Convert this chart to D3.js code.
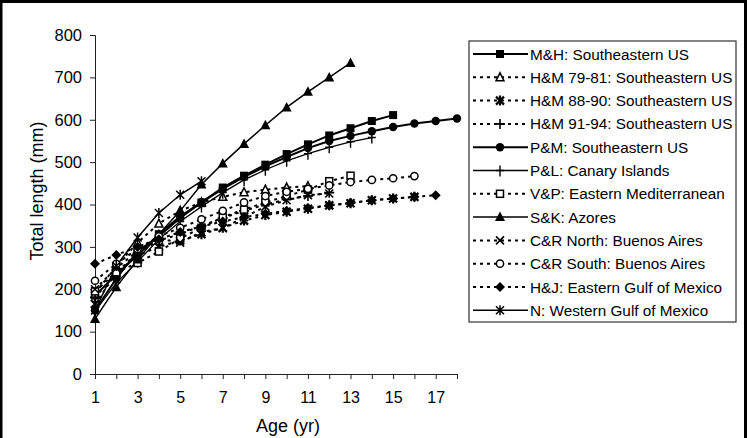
<!DOCTYPE html>
<html><head><meta charset="utf-8">
<script src="https://cdn.jsdelivr.net/npm/d3@7"></script>
<style>body{margin:0;background:#fff}svg{display:block}text{font-family:"Liberation Sans",Arial,sans-serif;fill:#000}</style>
</head><body><svg id="c" width="747" height="438"></svg>
<script>
const ages = [1,2,3,4,5,6,7,8,9,10,11,12,13,14,15,16,17,18];
const xTickLabels = [1,3,5,7,9,11,13,15,17];
const yTicks = [0,100,200,300,400,500,600,700,800];
const seriesNames = ["M&H: Southeastern US","H&M 79-81: Southeastern US","H&M 88-90: Southeastern US","H&M 91-94: Southeastern US","P&M: Southeastern US","P&L: Canary Islands","V&P: Eastern Mediterranean","S&K: Azores","C&R North: Buenos Aires","C&R South: Buenos Aires","H&J: Eastern Gulf of Mexico","N: Western Gulf of Mexico"];
const mhValues   = [185,235,280,330,372,405,440,468,494,519,542,563,580,597,611];
const hm7981     = [190,255,310,355,385,405,418,429,435,440,443];
const hm8890     = [165,238,280,300,315,330,345,362,375,383,390,398,403,410,414,418];
const hm9194     = [180,240,285,315,330,350,368,385,400,412,420,428];
const pmValues   = [150,225,290,325,368,405,437,465,490,512,533,550,562,573,583,591,597,603];
const plValues   = [148,215,265,318,360,395,428,458,482,503,520,535,548,558];
const vpValues   = [195,240,262,289,320,345,370,388,405,420,435,455,468];
const skValues   = [130,205,270,330,385,447,497,543,587,629,666,700,734];
const crNorth    = [200,250,290,320,310,335,344,370,395,410,422,426];
const crSouth    = [220,260,295,325,345,365,385,405,420,430,437,445,453,458,462,467];
const hjValues   = [260,281,300,318,335,348,360,370,378,385,392,398,404,410,414,418,422];
const nValues    = [150,255,322,380,423,455];

const allValues = [mhValues,hm7981,hm8890,hm9194,pmValues,plValues,vpValues,skValues,crNorth,crSouth,hjValues,nValues];
// styles (separate from data)
const styles = [
 {m:"sqF", dash:false, w:2},
 {m:"triO", dash:true, w:2},
 {m:"astB", dash:true, w:2},
 {m:"plus", dash:true, w:2},
 {m:"cirF", dash:false, w:2},
 {m:"vbar", dash:false, w:1.3},
 {m:"sqO", dash:true, w:2},
 {m:"triF", dash:false, w:1.5},
 {m:"x", dash:true, w:2},
 {m:"cirO", dash:true, w:2},
 {m:"diaF", dash:true, w:2},
 {m:"ast", dash:false, w:1.5}
];

const svg = d3.select("#c");
// frame
svg.append("path").attr("d","M1,438 V1.5 H745.5 V438").attr("fill","none").attr("stroke","#000").attr("stroke-width",3);

const x = d3.scaleLinear().domain([1,18]).range([95,457]);
const y = d3.scaleLinear().domain([0,800]).range([374,35]);

// y axis
const ya = svg.append("g").attr("transform","translate(95,0)")
  .call(d3.axisLeft(y).tickValues(yTicks).tickSize(5).tickPadding(8));
ya.select(".domain").attr("stroke","#222");
ya.selectAll("line").attr("stroke","#222");
ya.selectAll("text").attr("font-size",16.5).style("font-family","'Liberation Sans',Arial,sans-serif");

// x axis
const xa = svg.append("g").attr("transform","translate(0,374)")
  .call(d3.axisBottom(x).tickValues(ages).tickSize(5).tickPadding(13).tickFormat(d => xTickLabels.includes(d) ? d : ""));
xa.select(".domain").attr("stroke","#222");
xa.selectAll("line").attr("stroke","#222");
xa.selectAll("text").attr("font-size",16).style("font-family","'Liberation Sans',Arial,sans-serif");

svg.append("text").attr("x",288).attr("y",432).attr("text-anchor","middle").attr("font-size",18).text("Age (yr)");
svg.append("text").attr("transform","translate(43,191) rotate(-90)").attr("text-anchor","middle").attr("font-size",18).text("Total length (mm)");

function marker(g, type, cx, cy){
  const s = g.append("g").attr("transform",`translate(${cx},${cy})`);
  switch(type){
    case "sqF": s.append("rect").attr("x",-4).attr("y",-4).attr("width",8).attr("height",8).attr("fill","#000"); break;
    case "sqO": s.append("rect").attr("x",-3.5).attr("y",-3.5).attr("width",7).attr("height",7).attr("fill","#fff").attr("stroke","#000").attr("stroke-width",1.5); break;
    case "cirF": s.append("circle").attr("r",4.2).attr("fill","#000"); break;
    case "cirO": s.append("circle").attr("r",3.6).attr("fill","#fff").attr("stroke","#000").attr("stroke-width",1.5); break;
    case "triF": s.append("path").attr("d","M0,-5.5 L5,4 L-5,4 Z").attr("fill","#000"); break;
    case "triO": s.append("path").attr("d","M0,-4.5 L4,3.5 L-4,3.5 Z").attr("fill","#fff").attr("stroke","#000").attr("stroke-width",1.5); break;
    case "diaF": s.append("path").attr("d","M0,-5 L5,0 L0,5 L-5,0 Z").attr("fill","#000"); break;
    case "plus": s.append("path").attr("d","M-5,0 H5 M0,-5 V5").attr("stroke","#000").attr("stroke-width",1.6); break;
    case "vbar": s.append("path").attr("d","M-4,0 H4 M0,-5 V6").attr("stroke","#000").attr("stroke-width",1.4); break;
    case "x": s.append("path").attr("d","M-4,-4 L4,4 M-4,4 L4,-4").attr("stroke","#000").attr("stroke-width",1.6); break;
    case "astB": s.append("path").attr("d","M-4,-4 L4,4 M-4,4 L4,-4 M0,-5 V5").attr("stroke","#000").attr("stroke-width",2.2); break;
    case "ast": s.append("path").attr("d","M-4,-4 L4,4 M-4,4 L4,-4 M0,-5 V5").attr("stroke","#000").attr("stroke-width",1.5); break;
  }
}

const line = d3.line().x((d,i)=>x(ages[i])).y(d=>y(d));
const plot = svg.append("g");
allValues.forEach((vals, k) => {
  const st = styles[k];
  plot.append("path").datum(vals).attr("d", line).attr("fill","none").attr("stroke","#000")
    .attr("stroke-width", st.w).attr("stroke-dasharray", st.dash ? "3,4" : null);
});
allValues.forEach((vals, k) => {
  vals.forEach((v,i) => marker(plot, styles[k].m, x(ages[i]), y(v)));
});

// legend
const lg = svg.append("g");
lg.append("rect").attr("x",469).attr("y",41).attr("width",267).attr("height",281).attr("fill","#fff").attr("stroke","#333").attr("stroke-width",1.2);
seriesNames.forEach((name,k) => {
  const cy = 54 + k*23.3;
  const st = styles[k];
  lg.append("line").attr("x1",473).attr("x2",528).attr("y1",cy).attr("y2",cy).attr("stroke","#000")
    .attr("stroke-width",st.w).attr("stroke-dasharray", st.dash ? "3,4" : null);
  marker(lg, st.m, 500, cy);
  lg.append("text").attr("x",530).attr("y",cy+5.5).attr("font-size",15.3).text(name);
});
</script></body></html>
